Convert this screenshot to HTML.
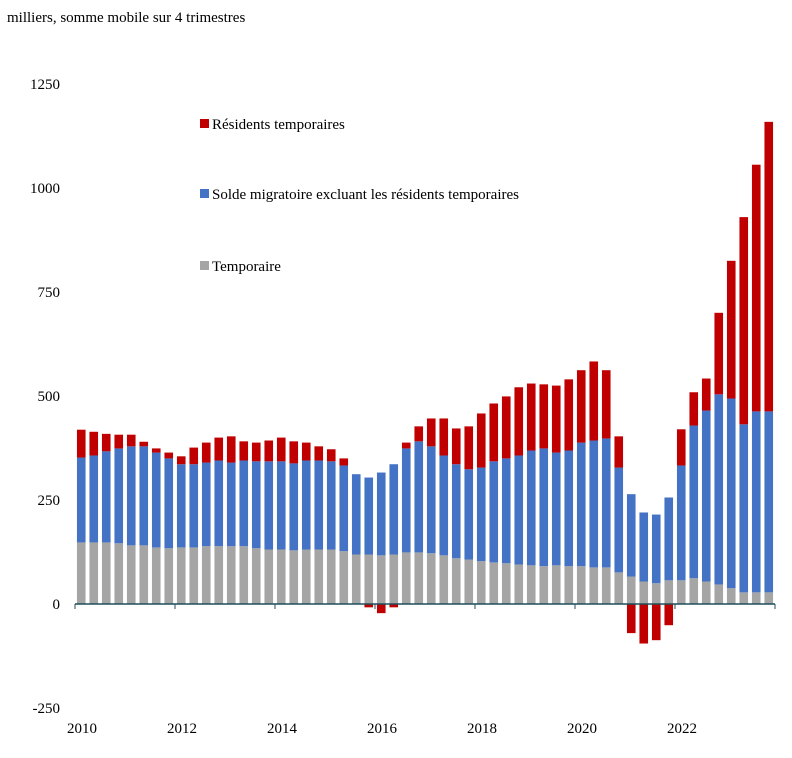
<!DOCTYPE html>
<html><head><meta charset="utf-8"><style>
body{margin:0;background:#fff;}
svg text{font-family:"Liberation Serif",serif;fill:#000;}
</style></head><body>
<svg id="chart" width="792" height="753" viewBox="0 0 792 753" xmlns="http://www.w3.org/2000/svg">
<text x="7" y="22" font-size="15">milliers, somme mobile sur 4 trimestres</text>
<g id="yticks"></g><g id="bars"></g><g id="xaxis"></g>
<g>
<g><rect x="200" y="119" width="9" height="9" fill="#c00000"/><text x="212" y="129" font-size="15">Résidents temporaires</text></g>
<g><rect x="200" y="189" width="9" height="9" fill="#4472c4"/><text x="212" y="199" font-size="15">Solde migratoire excluant les résidents temporaires</text></g>
<g><rect x="200" y="261" width="9" height="9" fill="#a5a5a5"/><text x="212" y="271" font-size="15">Temporaire</text></g>
</g>
</svg>
<script>
const grayVals=[148,148,148,146,141,141,136,134,136,136,139,139,139,139,134,131,131,129,131,131,131,127,119,119,117,119,124,124,122,117,110,107,103,100,98,95,93,91,93,91,91,88,88,76,66,54,50,57,57,62,54,47,38,28,28,28];
const blueTops=[352,357,367,374,379,379,364,350,336,336,340,345,340,345,343,343,343,338,345,345,343,333,312,304,316,336,374,391,379,357,336,324,328,343,350,357,369,374,364,369,388,393,398,328,264,220,215,256,333,429,465,504,494,432,463,463];
const redVals=[67,57,42,33,28,11,10,14,19,40,48,55,63,46,45,50,57,53,43,34,29,17,0,-8,-22,-8,14,36,67,89,86,103,130,139,149,164,161,154,161,171,174,190,164,75,-70,-95,-87,-51,87,80,77,196,331,498,593,696];
const yTicks=[-250,0,250,500,750,1000,1250];
const xLabels=["2010","2012","2014","2016","2018","2020","2022"];
const NS="http://www.w3.org/2000/svg";
const x0=75,qw=12.5,bw=8.6,zeroY=604,k=104/250;
const y=v=>zeroY-v*k;
const xc=i=>x0+qw*(i+0.5);
function mk(tag,attrs,parent){const e=document.createElementNS(NS,tag);for(const a in attrs)e.setAttribute(a,attrs[a]);parent.appendChild(e);return e;}
const yt=document.getElementById('yticks');
yTicks.forEach(v=>{const t=mk('text',{x:60,y:y(v)+5,'text-anchor':'end','font-size':15},yt);


t.textContent=v;});
const bars=document.getElementById('bars');
grayVals.forEach((g,i)=>{
 const b=blueTops[i], r=redVals[i], x=xc(i)-bw/2;
 const gr=mk('rect',{x:x,y:y(g),width:bw,height:g*k,fill:'#a5a5a5'},bars);
 
 
 const bl=mk('rect',{x:x,y:y(b),width:bw,height:(b-g)*k,fill:'#4472c4'},bars);
 
 
 if(r>0){const rr=mk('rect',{x:x,y:y(b+r),width:bw,height:r*k,fill:'#c00000'},bars);
 
 }
 else if(r<0){const rr=mk('rect',{x:x,y:zeroY,width:bw,height:-r*k,fill:'#c00000'},bars);
 
 }
});
const xa=document.getElementById('xaxis');
const ax=mk('line',{x1:x0,y1:zeroY,x2:x0+qw*56,y2:zeroY,stroke:'#1f4e5a','stroke-width':1.5},xa);


for(let j=0;j<=7;j++){const tx=x0+j*100;const tk=mk('line',{x1:tx,y1:zeroY,x2:tx,y2:zeroY+5,stroke:'#1f4e5a','stroke-width':1},xa);

}
xLabels.forEach((l,j)=>{const t=mk('text',{x:x0+j*100+7,y:733,'text-anchor':'middle','font-size':15},xa);


t.textContent=l;});
</script>
</body></html>
